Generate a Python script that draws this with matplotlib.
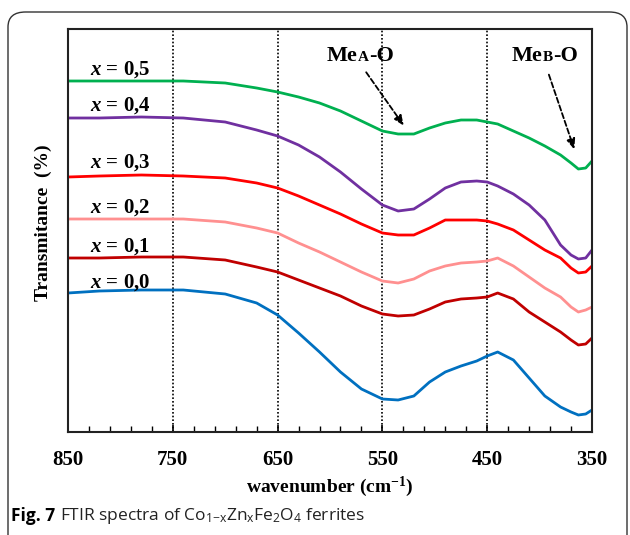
import matplotlib
matplotlib.use("Agg")
import matplotlib.pyplot as plt
from matplotlib.offsetbox import TextArea, HPacker, AnnotationBbox
from matplotlib.patches import FancyBboxPatch
import numpy as np

plt.rcParams["mathtext.fontset"] = "custom"
plt.rcParams["mathtext.rm"] = "Open Sans"
plt.rcParams["mathtext.it"] = "Liberation Serif:italic:bold"
plt.rcParams["mathtext.bf"] = "Liberation Serif:bold"

# ---------------- data ----------------
wavenumber = [850, 820, 780, 740, 700, 670, 650, 630, 610, 590, 570, 550, 535, 520,
              505, 490, 475, 460, 450, 440, 425, 410, 395, 380, 370, 363, 356, 350]

# transmittance (arbitrary units, offset spectra)
t_x00 = [139, 141, 142, 142, 138, 129, 117, 99, 80, 60, 43, 33, 32, 36,
         50, 60, 66, 71, 76, 80, 72, 54, 36, 25, 20, 17, 18, 22]
t_x01 = [174, 174, 175, 175, 172, 165, 160, 152, 144, 136, 126, 118, 116, 117,
         123, 130, 133, 134, 135, 139, 133, 120, 110, 100, 92, 87, 88, 94]
t_x02 = [213, 213, 213, 213, 210, 204, 199, 189, 180, 170, 160, 151, 149, 153,
         161, 166, 169, 170, 171, 174, 166, 155, 144, 135, 125, 120, 122, 125]
t_x03 = [255, 256, 257, 256, 254, 249, 244, 236, 227, 218, 208, 199, 197, 197,
         204, 212, 212, 212, 211, 208, 202, 192, 182, 174, 164, 159, 160, 166]
t_x04 = [314, 314, 315, 314, 310, 302, 296, 287, 275, 260, 243, 227, 221, 223,
         233, 244, 250, 251, 250, 246, 238, 227, 212, 187, 177, 173, 174, 182]
t_x05 = [351, 351, 351, 351, 349, 344, 340, 335, 329, 321, 311, 301, 298, 298,
         304, 309, 312, 312, 310, 308, 301, 294, 286, 277, 269, 263, 264, 271]

series = [
    (t_x00, "#0070C0", r"$x$ = 0,0", 149),
    (t_x01, "#C00000", r"$x$ = 0,1", 185),
    (t_x02, "#FF9090", r"$x$ = 0,2", 224),
    (t_x03, "#FF0000", r"$x$ = 0,3", 269),
    (t_x04, "#7030A0", r"$x$ = 0,4", 326),
    (t_x05, "#00B050", r"$x$ = 0,5", 362),
]

x_ticks = [850, 750, 650, 550, 450, 350]
grid_lines = [750, 650, 550, 450]

# ---------------- figure ----------------
W, H = 630, 535
fig = plt.figure(figsize=(W / 100, H / 100), dpi=100)

# outer rounded frame (bottom edge falls outside the image)
frame = FancyBboxPatch((8 / W, -20 / H), (619 / W), (543 / H),
                       boxstyle="round,pad=0,rounding_size=0.028",
                       transform=fig.transFigure, fill=False,
                       edgecolor="#333333", linewidth=1.0)
fig.patches.append(frame)

ax = fig.add_axes([68 / W, 1 - 432 / H, 524 / W, 403 / H])

serif = "Liberation Serif"

for vals, col, lab, ly in series:
    ax.plot(wavenumber, vals, color=col, lw=2.0, solid_joinstyle="round")
    ax.text(800, ly, lab, ha="center", va="center", fontsize=15,
            fontweight="bold", family=serif)

for g in grid_lines:
    ax.axvline(g, color="black", lw=1.2, ls=(0, (1, 1.2)), zorder=0)

ax.set_xlim(850, 350)
ax.set_ylim(0, 403)
ax.set_yticks([])
ax.set_xticks(x_ticks)
ax.set_xticks(np.arange(350, 851, 20), minor=True)
ax.tick_params(axis="x", which="major", direction="in", length=5, width=1.2,
               pad=13, labelsize=15)
ax.tick_params(axis="x", which="minor", direction="in", length=4, width=1.0)
for lbl in ax.get_xticklabels():
    lbl.set_fontweight("bold")
    lbl.set_family(serif)
for sp in ax.spines.values():
    sp.set_linewidth(1.5)
    sp.set_color("#222222")

ax.set_xlabel(r"wavenumber (cm$^{\mathbf{-1}}$)", fontsize=14, fontweight="bold",
              family=serif, labelpad=3)
ax.text(-0.048, 0.52, "Transmitance  (%)", transform=ax.transAxes, rotation=90,
        ha="center", va="center", fontsize=14, fontweight="bold", family=serif)

# band annotations
def band_label(xw, yv, sub):
    fp_big = dict(fontsize=16, fontweight="bold", family=serif)
    fp_small = dict(fontsize=11, fontweight="bold", family=serif)
    box = HPacker(children=[TextArea("Me", textprops=fp_big),
                            TextArea(sub, textprops=fp_small),
                            TextArea("-O", textprops=fp_big)],
                  align="baseline", pad=0, sep=0)
    ab = AnnotationBbox(box, (xw, yv), frameon=False, box_alignment=(0.5, 0.5))
    ax.add_artist(ab)

band_label(571, 376, "A")
band_label(395, 376, "B")

arrow_kw = dict(arrowstyle="-|>,head_length=0.6,head_width=0.25", color="black",
                lw=1.3, ls=(0, (3, 1.5)))
ax.annotate("", xy=(528, 304), xytext=(567, 362), arrowprops=arrow_kw)
ax.annotate("", xy=(366, 280), xytext=(392, 360), arrowprops=arrow_kw)

# caption
cap_y = 1 - 516 / H
t1 = fig.text(11 / W, cap_y, "Fig. 7", fontsize=12.5, fontweight="bold",
              family="Open Sans", va="center")
fig.canvas.draw()
bb = t1.get_window_extent()
fig.text(bb.x1 / W + 5 / W, cap_y,
         r"FTIR spectra of Co$_{\mathrm{1{-}x}}$Zn$_{\mathrm{x}}$Fe$_{\mathrm{2}}$O$_{\mathrm{4}}$ ferrites",
         fontsize=12.5, family="Open Sans", va="center", color="#222222")

fig.savefig("out.png", dpi=100)
